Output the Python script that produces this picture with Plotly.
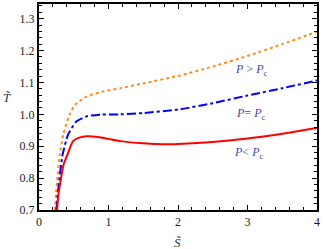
import plotly.graph_objects as go

# Data
s_lo = [0.26, 0.28, 0.31, 0.35, 0.41, 0.49, 0.58, 0.69, 0.85, 1.0, 1.17, 1.5, 1.8, 2.0, 2.5, 3.0, 3.5, 4.0]
T_lo = [0.70, 0.75, 0.79, 0.84, 0.874, 0.916, 0.927, 0.931, 0.929, 0.923, 0.916, 0.909, 0.906, 0.907, 0.913, 0.924, 0.939, 0.957]

s_eq = [0.25, 0.27, 0.29, 0.34, 0.42, 0.54, 0.69, 0.88, 1.17, 1.5, 2.03, 2.5, 3.0, 3.5, 4.0]
T_eq = [0.70, 0.75, 0.79, 0.874, 0.937, 0.978, 0.994, 0.999, 1.0, 1.004, 1.016, 1.035, 1.059, 1.082, 1.106]

s_hi = [0.23, 0.245, 0.26, 0.30, 0.35, 0.44, 0.52, 0.69, 0.93, 1.17, 1.5, 2.03, 2.5, 3.0, 3.5, 4.0]
T_hi = [0.70, 0.75, 0.79, 0.874, 0.937, 0.999, 1.03, 1.056, 1.072, 1.082, 1.097, 1.122, 1.15, 1.183, 1.22, 1.259]

x_range = [0, 4]
y_range = [0.7, 1.346]
x_tick_start, x_tick_step, x_minor_step = 0, 1, 0.2
y_tick_start, y_tick_step, y_minor_step = 0.7, 0.1, 0.02

labels = ["<i>P</i> > <i>P</i><sub>c</sub>", "<i>P</i>= <i>P</i><sub>c</sub>", "<i>P</i>< <i>P</i><sub>c</sub>"]
label_s = [3.05, 3.05, 3.02]
label_T = [1.14, 1.0, 0.878]

fig = go.Figure()
# invisible trace to carry the minor-tick overlay axes
fig.add_trace(go.Scatter(x=[x_range[0]], y=[y_range[0]], xaxis="x2", yaxis="y2", mode="markers",
                         marker=dict(opacity=0), hoverinfo="skip"))
fig.add_trace(go.Scatter(x=s_hi, y=T_hi, mode="lines",
                         line=dict(color="#FF8C1A", width=2, dash="dot", shape="spline", smoothing=0.6)))
fig.add_trace(go.Scatter(x=s_eq, y=T_eq, mode="lines",
                         line=dict(color="#0000FF", width=2, dash="dashdot", shape="spline", smoothing=0.6)))
fig.add_trace(go.Scatter(x=s_lo, y=T_lo, mode="lines",
                         line=dict(color="#FF0000", width=2, shape="spline", smoothing=0.6)))

for txt, xs, ys in zip(labels, label_s, label_T):
    fig.add_annotation(x=xs, y=ys, text=txt, showarrow=False,
                       font=dict(family="Liberation Serif", size=12, color="#4646A6"))

fig.add_annotation(xref="paper", yref="paper", x=-0.115, y=0.545, xanchor="center", yanchor="middle",
                   text="<i>T\u0303</i>", showarrow=False,
                   font=dict(family="Liberation Serif", size=13, color="#333333"))
fig.add_annotation(xref="paper", yref="paper", x=0.5, y=-0.16, xanchor="center", yanchor="middle",
                   text="<i>S\u0303</i>", showarrow=False,
                   font=dict(family="Liberation Serif", size=13, color="#333333"))

axis_common = dict(showgrid=False, zeroline=False, showline=True, linecolor="black", linewidth=2,
                   mirror="ticks", ticks="inside", ticklen=5, tickwidth=1.2, tickcolor="black",
                   tickmode="linear",
                   tickfont=dict(family="Liberation Serif", size=12, color="#222222"))

minor_common = dict(showgrid=False, zeroline=False, showline=False, mirror="ticks",
                    ticks="inside", ticklen=3, tickwidth=1, tickcolor="black",
                    tickmode="linear", showticklabels=False)

fig.update_layout(
    xaxis=dict(range=x_range, tick0=x_tick_start, dtick=x_tick_step, tickformat="d",
               ticklabelstandoff=0, **axis_common),
    yaxis=dict(range=y_range, tick0=y_tick_start, dtick=y_tick_step, tickformat=".1f",
               **axis_common),
    xaxis2=dict(range=x_range, tick0=x_tick_start, dtick=x_minor_step, overlaying="x",
                anchor="y2", side="bottom", **minor_common),
    yaxis2=dict(range=y_range, tick0=y_tick_start, dtick=y_minor_step, overlaying="y",
                anchor="x2", side="left", **minor_common),
    width=324, height=249, showlegend=False,
    margin=dict(l=39, r=7, t=2, b=39),
    plot_bgcolor="white", paper_bgcolor="white",
)

fig.write_html("out.html", config={"displayModeBar": False},
               post_script="document.body.style.margin='0';")
